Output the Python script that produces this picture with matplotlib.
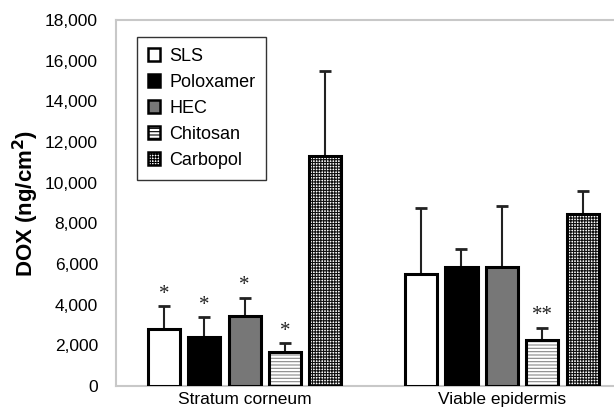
import matplotlib
matplotlib.use("Agg")
import matplotlib.pyplot as plt
import numpy as np
from matplotlib.patches import Patch

groups = ["Stratum corneum", "Viable epidermis"]
formulations = ["SLS", "Poloxamer", "HEC", "Chitosan", "Carbopol"]
means = {
    "SLS":       [2780, 5500],
    "Poloxamer": [2400, 5840],
    "HEC":       [3450, 5860],
    "Chitosan":  [1650, 2280],
    "Carbopol":  [11300, 8450],
}
errs = {
    "SLS":       [1130, 3260],
    "Poloxamer": [980, 890],
    "HEC":       [900, 3000],
    "Chitosan":  [450, 590],
    "Carbopol":  [4180, 1150],
}
marks = {
    "SLS":       ["*", ""],
    "Poloxamer": ["*", ""],
    "HEC":       ["*", ""],
    "Chitosan":  ["*", "**"],
    "Carbopol":  ["", ""],
}
yticks = [0, 2000, 4000, 6000, 8000, 10000, 12000, 14000, 16000, 18000]

styles = {
    "SLS":       dict(face="white", hatch=None, hcol=None),
    "Poloxamer": dict(face="black", hatch=None, hcol=None),
    "HEC":       dict(face="#777777", hatch=None, hcol=None),
    "Chitosan":  dict(face="white", hatch="-----", hcol="#888888"),
    "Carbopol":  dict(face="white", hatch="++++++", hcol="#111111"),
}

plt.rcParams['font.family'] = ['Liberation Sans', 'DejaVu Sans']
plt.rcParams['hatch.linewidth'] = 0.8
fig = plt.figure(figsize=(6.14, 4.15), dpi=100)
ax = fig.add_axes([116/614, 29/415, 1 - 116/614 + 0.01, 366/415])

step = 0.157
w = 0.125
x0 = np.arange(len(groups))
for i, f in enumerate(formulations):
    xs = x0 + (i - 2) * step
    st = styles[f]
    if st["hatch"]:
        ax.bar(xs, means[f], w, color=st["face"], edgecolor=st["hcol"],
               hatch=st["hatch"], linewidth=0, zorder=2)
        ax.bar(xs, means[f], w, fill=False, edgecolor="black", linewidth=2.2, zorder=3)
    else:
        ax.bar(xs, means[f], w, color=st["face"], edgecolor="black", linewidth=2.2, zorder=3)
    ax.errorbar(xs, means[f], yerr=[np.zeros(len(xs)), errs[f]], fmt="none",
                ecolor="#222222", elinewidth=1.5, capsize=4, capthick=2, zorder=2)
    for xi, m, e, s in zip(xs, means[f], errs[f], marks[f]):
        if s:
            ax.text(xi, m + e + 120, s, ha="center", va="bottom", fontsize=15,
                    family="Liberation Serif", color="#222222")

ax.set_xlim(-0.5, 1.46)
ax.set_ylim(0, 18000)
ax.set_yticks(yticks)
ax.set_yticklabels([f"{v:,}" for v in yticks], fontsize=12.5)
ax.set_xticks(x0)
ax.set_xticklabels(groups, fontsize=12.5)
ax.tick_params(axis="both", length=0, pad=4)
ax.tick_params(axis="y", pad=13)
for s in ["left", "top", "bottom"]:
    ax.spines[s].set_color("#c8c8c8")
    ax.spines[s].set_linewidth(1.5)
ax.spines["right"].set_visible(False)
ax.set_ylabel("DOX (ng/cm$\\mathbf{^2}$)", fontsize=16, fontweight="bold", labelpad=3)

handles = []
for f in formulations:
    st = styles[f]
    handles.append(Patch(facecolor=st["face"], edgecolor="black", linewidth=1.8,
                         hatch=st["hatch"], label=f))
leg = ax.legend(handles=handles, loc="upper left", bbox_to_anchor=(0.041, 0.954),
                borderaxespad=0,
                fontsize=13, frameon=True, fancybox=False, edgecolor="black",
                handlelength=0.7, handleheight=0.7, handletextpad=0.5,
                labelspacing=0.5, borderpad=0.6)
leg.get_frame().set_linewidth(1.0)

fig.savefig("out.png", dpi=100)
